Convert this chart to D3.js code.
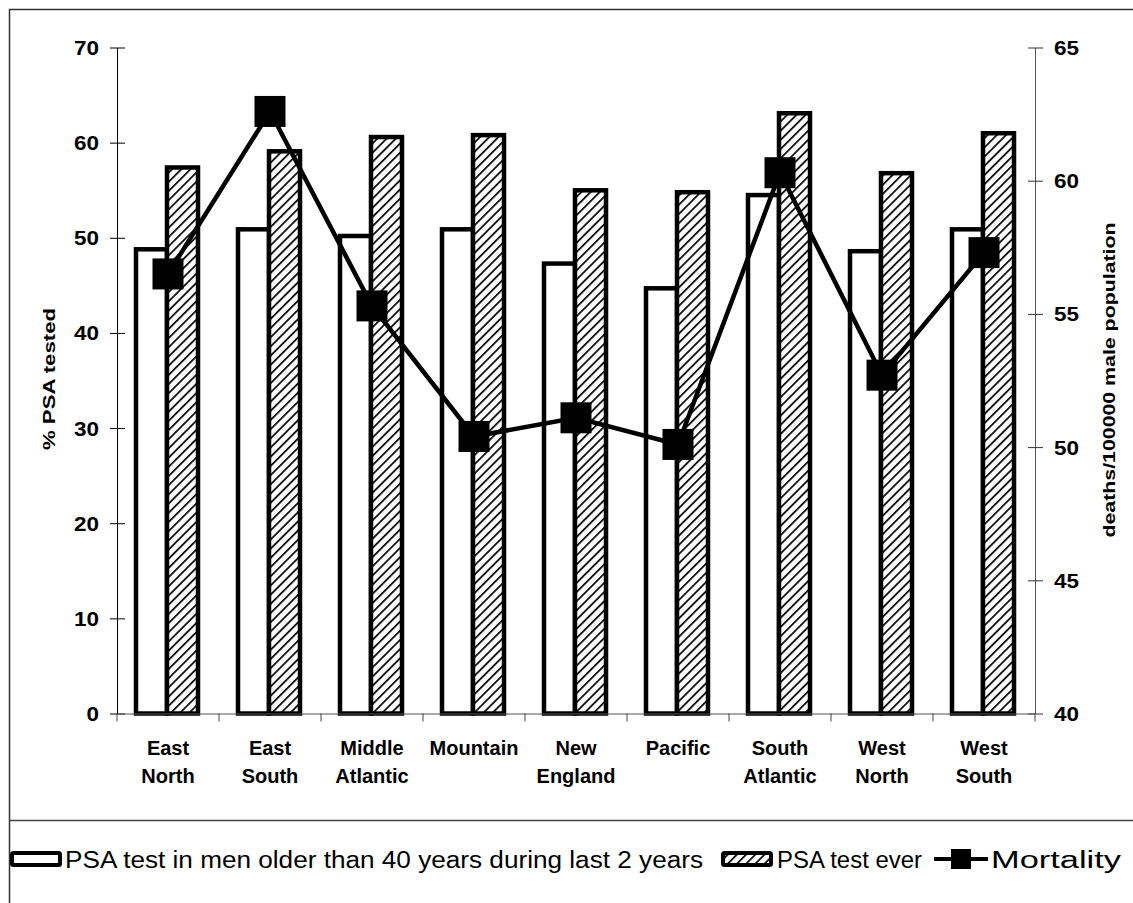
<!DOCTYPE html>
<html><head><meta charset="utf-8">
<script src="https://cdn.jsdelivr.net/npm/d3@7"></script>
<style>body{margin:0;background:#fff}svg{display:block}</style>
</head><body><div id="chart"></div>
<script>
const categories = [["East","North"],["East","South"],["Middle","Atlantic"],["Mountain"],["New","England"],["Pacific"],["South","Atlantic"],["West","North"],["West","South"]];
const psa2years = [49.0, 51.1, 50.4, 51.1, 47.5, 44.9, 54.7, 48.8, 51.1];
const psaEver = [57.6, 59.3, 60.8, 61.0, 55.2, 55.0, 63.3, 57.0, 61.2];
const mortality = [56.5, 62.6, 55.3, 50.4, 51.1, 50.1, 60.3, 52.7, 57.3];
const leftTicks = [0,10,20,30,40,50,60,70];
const rightTicks = [40,45,50,55,60,65];
const seriesNames = ["PSA test in men older than 40 years during last 2 years","PSA test ever","Mortality"];

const W = 1133, H = 903;
const svg = d3.select("#chart").append("svg").attr("width", W).attr("height", H);
const defs = svg.append("defs");
const pat = defs.append("pattern").attr("id","hatch").attr("patternUnits","userSpaceOnUse")
  .attr("width",6.5).attr("height",6.5).attr("patternTransform","rotate(45)");
pat.append("rect").attr("width",6.5).attr("height",6.5).attr("fill","#fff");
pat.append("line").attr("x1",0).attr("y1",0).attr("x2",0).attr("y2",6.5).attr("stroke","#000").attr("stroke-width",3.4);

// outer border
svg.append("rect").attr("x",9.5).attr("y",9.5).attr("width",1130).attr("height",900).attr("fill","none").attr("stroke","#333").attr("stroke-width",1.5);
svg.append("line").attr("x1",9.5).attr("x2",1133).attr("y1",820.5).attr("y2",820.5).attr("stroke","#444").attr("stroke-width",1.3);

const x0 = 117, x1 = 1035, yTop = 47.5, yBot = 713.5;
const x = d3.scaleBand().domain(d3.range(categories.length)).range([x0, x1]).paddingInner(0).paddingOuter(0);
const yL = d3.scaleLinear().domain([0,70]).range([yBot, yTop]);
const yR = d3.scaleLinear().domain([40,65]).range([yBot, yTop]);
const barW = 31;
const font = "'Liberation Sans', Arial, sans-serif";

// bars
const g = svg.append("g");
g.selectAll(".b1").data(psa2years).join("rect")
  .attr("x",(d,i)=>x(i)+x.bandwidth()/2 - barW - 1)
  .attr("y",d=>yL(d)+2).attr("width",barW).attr("height",d=>yBot - yL(d)-2)
  .attr("fill","#fff").attr("stroke","#000").attr("stroke-width",4.5);
g.selectAll(".b2").data(psaEver).join("rect")
  .attr("x",(d,i)=>x(i)+x.bandwidth()/2 - 1)
  .attr("y",d=>yL(d)+2).attr("width",barW).attr("height",d=>yBot - yL(d)-2)
  .attr("fill","url(#hatch)").attr("stroke","#000").attr("stroke-width",4.5);

function styleTickText(sel){
  sel.attr("dy","0.36em")
    .style("font-family",font).style("font-size","19.5px").style("font-weight","bold").attr("fill","#000")
    .each(function(){ const t=d3.select(this); t.attr("textLength", t.text().length*12.5).attr("lengthAdjust","spacingAndGlyphs"); });
}
// axes
const axL = svg.append("g").attr("transform",`translate(${x0},0)`)
  .call(d3.axisLeft(yL).tickValues(leftTicks).tickSize(7).tickSizeOuter(0));
axL.select(".domain").attr("stroke","#000");
axL.selectAll(".tick line").attr("x1",-7).attr("x2",8).attr("stroke","#000");
axL.selectAll(".tick text").attr("x",-18).call(styleTickText);

const axR = svg.append("g").attr("transform",`translate(${x1},0)`)
  .call(d3.axisRight(yR).tickValues(rightTicks).tickSize(8).tickSizeOuter(0));
axR.select(".domain").attr("stroke","#555");
axR.selectAll(".tick line").attr("x1",-7).attr("x2",8).attr("stroke","#333");
axR.selectAll(".tick text").attr("x",19).call(styleTickText);

// bottom axis
const axB = svg.append("g").attr("transform",`translate(0,${yBot})`);
axB.append("line").attr("x1",x0).attr("x2",x1).attr("y1",0.5).attr("y2",0.5).attr("stroke","#555").attr("stroke-width",1);
axB.selectAll(".bt").data(d3.range(categories.length+1)).join("line")
  .attr("x1",i=>x0 + i*x.bandwidth()).attr("x2",i=>x0 + i*x.bandwidth())
  .attr("y1",0).attr("y2",8).attr("stroke","#444");
const lab = svg.append("g").selectAll("text").data(categories).join("text")
  .attr("text-anchor","middle").style("font-family",font).style("font-size","20px").style("font-weight","bold")
  .attr("transform",(d,i)=>`translate(${x(i)+x.bandwidth()/2},0)`);
lab.each(function(d){
  const t = d3.select(this);
  d.forEach((s,k)=>t.append("tspan").attr("x",0).attr("y",755 + k*28).text(s));
});

// axis titles
svg.append("text").attr("transform","translate(55,379) rotate(-90)").attr("text-anchor","middle")
  .attr("textLength",142).attr("lengthAdjust","spacingAndGlyphs")
  .style("font-family",font).style("font-size","17px").style("font-weight","bold").text("% PSA tested");
svg.append("text").attr("transform","translate(1115,380) rotate(-90)").attr("text-anchor","middle")
  .attr("textLength",315).attr("lengthAdjust","spacingAndGlyphs")
  .style("font-family",font).style("font-size","17px").style("font-weight","bold").text("deaths/100000 male population");

// mortality line
const cx = i => x(i)+x.bandwidth()/2;
svg.append("path").datum(mortality).attr("fill","none").attr("stroke","#000").attr("stroke-width",4.5)
  .attr("d", d3.line().x((d,i)=>cx(i)).y(d=>yR(d)));
svg.selectAll(".mk").data(mortality).join("rect")
  .attr("x",(d,i)=>cx(i)-15.5).attr("y",d=>yR(d)-15.5).attr("width",31).attr("height",31).attr("fill","#000");

// legend
const leg = svg.append("g").style("font-family",font).style("font-size","23px");
leg.append("rect").attr("x",12).attr("y",853).attr("width",48).attr("height",12).attr("fill","#fff").attr("stroke","#000").attr("stroke-width",4).attr("rx",1.5);
leg.append("text").attr("x",65).attr("y",868).attr("textLength",638).attr("lengthAdjust","spacingAndGlyphs").text(seriesNames[0]);
leg.append("rect").attr("x",723).attr("y",853).attr("width",48).attr("height",12).attr("fill","url(#hatch)").attr("stroke","#000").attr("stroke-width",4).attr("rx",1.5);
leg.append("text").attr("x",777).attr("y",868).attr("textLength",145).attr("lengthAdjust","spacingAndGlyphs").text(seriesNames[1]);
leg.append("line").attr("x1",934).attr("x2",988).attr("y1",859).attr("y2",859).attr("stroke","#000").attr("stroke-width",4);
leg.append("rect").attr("x",951).attr("y",849).attr("width",20).attr("height",20).attr("fill","#000");
leg.append("text").attr("x",991).attr("y",868).attr("textLength",130).attr("lengthAdjust","spacingAndGlyphs").text(seriesNames[2]);
</script></body></html>
